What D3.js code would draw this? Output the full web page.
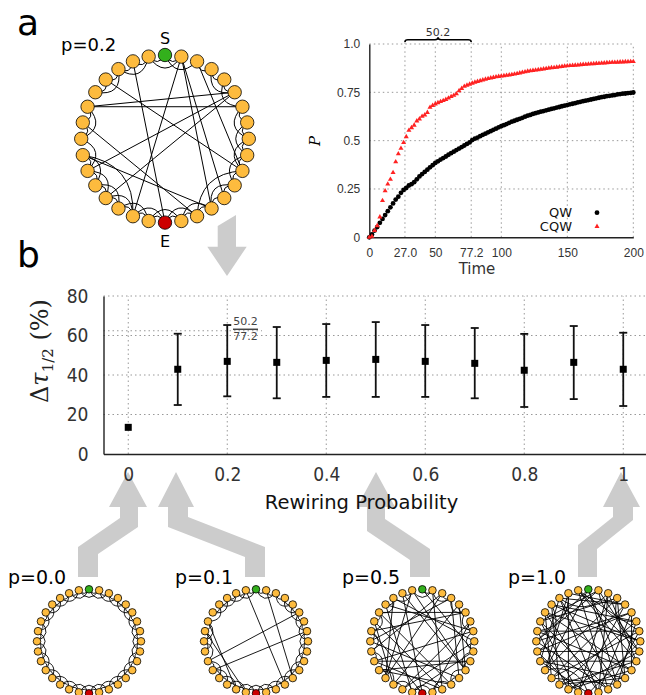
<!DOCTYPE html>
<meta charset='utf-8'>
<head>
    <title>Walk speed-up on rewired rings</title>
    <script src='https://cdn.jsdelivr.net/npm/d3@7'></script>
</head>

<style>
    body { margin: 0; background: #fff; }
    svg { font-family: 'DejaVu Sans', sans-serif; }
    .grid { stroke: #999; stroke-width: 1; stroke-dasharray: 1.5,3; fill: none; }
    .edge { fill: none; stroke: #000; }
    .node { stroke: #000; stroke-width: 0.8; }
    .arrow { fill: #cccccc; }
    .axA .domain, .axB .domain { stroke: #222; stroke-width: 1.4; }
    .axA text { font-size: 12px; fill: #333; }
    .axB text { font-family: 'DejaVu Sans Condensed', 'DejaVu Sans', sans-serif; font-stretch: condensed; font-size: 19px; fill: #333; }
</style>

<svg width='646' height='695'></svg>

<script>
    // ---- panel a: arrival probability vs time ----
    var timeSteps = [0,2,4,6,8,10,12,14,16,18,20,22,24,26,28,30,32,34,36,38,
        40,42,44,46,48,50,52,54,56,58,60,62,64,66,68,70,72,74,76,78,
        80,82,84,86,88,90,92,94,96,98,100,102,104,106,108,110,112,114,116,118,
        120,122,124,126,128,130,132,134,136,138,140,142,144,146,148,150,152,154,156,158,
        160,162,164,166,168,170,172,174,176,178,180,182,184,186,188,190,192,194,196,198,200];
    var qwP = [0,0.015,0.035,0.053,0.075,0.095,0.115,0.135,0.155,0.175,
        0.195,0.21,0.23,0.245,0.255,0.268,0.275,0.285,0.3,0.315,
        0.327,0.338,0.35,0.362,0.373,0.385,0.393,0.402,0.41,0.418,
        0.427,0.435,0.443,0.451,0.459,0.467,0.475,0.483,0.491,0.503,
        0.51,0.516,0.523,0.53,0.536,0.543,0.549,0.556,0.562,0.569,
        0.575,0.58,0.586,0.592,0.598,0.603,0.608,0.613,0.618,0.624,
        0.629,0.633,0.638,0.642,0.646,0.65,0.653,0.657,0.66,0.664,
        0.667,0.671,0.674,0.678,0.681,0.684,0.688,0.691,0.694,0.698,
        0.701,0.704,0.707,0.71,0.713,0.716,0.719,0.722,0.725,0.727,
        0.73,0.732,0.734,0.736,0.739,0.741,0.743,0.744,0.746,0.747,0.749];
    var cqwP = [0,0.005,0.035,0.06,0.105,0.19,0.24,0.275,0.3,0.335,
        0.39,0.432,0.46,0.49,0.52,0.553,0.567,0.58,0.602,0.612,
        0.626,0.633,0.646,0.672,0.682,0.69,0.696,0.702,0.707,0.713,
        0.72,0.728,0.734,0.742,0.758,0.77,0.781,0.787,0.792,0.797,
        0.802,0.806,0.81,0.814,0.818,0.821,0.824,0.827,0.83,0.832,
        0.834,0.836,0.838,0.84,0.842,0.844,0.847,0.85,0.853,0.856,
        0.859,0.861,0.863,0.865,0.867,0.869,0.871,0.873,0.875,0.877,
        0.878,0.88,0.882,0.884,0.886,0.887,0.888,0.889,0.89,0.891,
        0.893,0.894,0.895,0.896,0.897,0.898,0.899,0.9,0.901,0.902,
        0.903,0.904,0.905,0.905,0.906,0.907,0.907,0.908,0.908,0.909,0.909];
    var timeTicks = [0, 27.0, 50, 77.2, 100, 150, 200];
    var timeTickLabels = ['0', '27.0', '50', '77.2', '100', '150', '200'];
    var pTicks = [0, 0.25, 0.5, 0.75, 1.0];
    var pTickLabels = ['0', '0.25', '0.5', '0.75', '1.0'];
    var seriesNames = ['QW', 'CQW'];
    var halfTimes = [27.0, 77.2];
    var halfGapLabel = '50.2';

    // ---- panel b: speed-up vs rewiring probability ----
    var rewiringP = [0, 0.1, 0.2, 0.3, 0.4, 0.5, 0.6, 0.7, 0.8, 0.9, 1.0];
    var deltaTau = [13.5, 42.9, 46.9, 46.4, 47.4, 47.9, 46.9, 45.9, 42.4, 46.4, 42.9];
    var deltaHi = [null, 60.9, 65.3, 64.3, 65.8, 66.8, 65.3, 63.8, 60.8, 64.8, 61.4];
    var deltaLo = [null, 24.8, 29.2, 28.2, 28.9, 28.9, 28.9, 28.2, 23.8, 27.8, 24.3];
    var probTicks = [0, 0.2, 0.4, 0.6, 0.8, 1];
    var probTickLabels = ['0', '0.2', '0.4', '0.6', '0.8', '1'];
    var deltaTicks = [0, 20, 40, 60, 80];
    var ratioMark = 62.4;

    // ---- networks: ring of 32, each node linked to 2 forward neighbours ----
    // rewired entries: [node, step, newTarget]
    var nodeCount = 32;
    var latticeSteps = [1, 2];
    var rewired02 = [[1,2,18],[1,1,13],[12,2,1],[2,2,10],[26,1,6],[26,2,5],[5,1,22],
        [5,2,20],[28,2,10],[25,2,14],[30,2,16],[23,1,13],[10,2,14],[23,2,18]];
    var rewired00 = [];
    var rewired01 = [[31,2,13],[1,2,12],[22,1,5],[21,2,7],[25,2,17],[26,1,18]];
    var rewired05 = [[0,2,9],[1,1,14],[2,2,20],[3,1,24],[4,2,11],[5,1,27],[6,2,18],[7,1,22],
        [8,2,29],[9,1,17],[10,2,22],[11,1,30],[12,2,3],[13,1,21],[14,2,26],[15,1,6],
        [16,2,25],[17,1,28],[18,2,8],[19,1,4],[20,2,31],[21,1,10],[22,2,14],[23,1,2],
        [24,2,12],[25,1,5],[26,2,19],[27,1,13],[28,2,7],[29,1,20],[30,2,16],[31,1,11]];
    var rewired10 = [[0,1,13],[0,2,21],[1,1,9],[1,2,24],[2,1,17],[2,2,29],[3,1,12],[3,2,26],
        [4,1,20],[4,2,30],[5,1,15],[5,2,23],[6,1,1],[6,2,19],[7,1,25],[7,2,14],
        [8,1,28],[8,2,3],[9,1,18],[9,2,31],[10,1,22],[10,2,2],[11,1,27],[11,2,5],
        [12,1,19],[12,2,0],[13,1,6],[13,2,29],[14,1,24],[14,2,31],[15,1,2],[15,2,27],
        [16,1,8],[16,2,22],[17,1,4],[17,2,26],[18,1,30],[18,2,11],[19,1,10],[19,2,28],
        [20,1,7],[20,2,13],[21,1,3],[21,2,16],[22,1,29],[22,2,12],[23,1,9],[23,2,17],
        [24,1,5],[24,2,0],[25,1,11],[25,2,18],[26,1,14],[26,2,1],[27,1,20],[27,2,8],
        [28,1,23],[28,2,6],[29,1,15],[29,2,4],[30,1,21],[30,2,25],[31,1,7],[31,2,10]];
    var netLabels = ['p=0.0', 'p=0.1', 'p=0.5', 'p=1.0'];

    var svg = d3.select('svg');

    // grey pointer arrows (drawn first, text sits over them)
    var arrowShapes = [
        [[217.7,226],[236,215],[236,246.7],[246.7,246.7],[227,276],[207.3,246.7],[217.7,246.7]],
        [[128,472],[147,507],[138,507],[138,527],[98,554],[98,577],[78,577],[78,547],[120,518],[120,507],[109,507]],
        [[176,472],[194,507],[188,507],[188,517],[265,547],[265,577],[245,577],[245,557],[168,527],[168,507],[158,507]],
        [[376,472],[395,507],[385,507],[385,519],[430,549],[430,577],[410,577],[410,560],[367,531],[367,507],[357,507]],
        [[621,472],[640,507],[633,507],[633,520],[597,549],[597,577],[578,577],[578,545],[613,517],[613,507],[603,507]]
    ];
    svg.selectAll('polygon.arrow').data(arrowShapes).enter().append('polygon')
        .attr('class', 'arrow')
        .attr('points', function (d) { return d.join(' '); });

    // panel letters
    svg.append('text').attr('x', 17).attr('y', 35).attr('font-size', 36).text('a');
    svg.append('text').attr('x', 17).attr('y', 267).attr('font-size', 36).text('b');

    // ---------- network drawing ----------
    function buildEdges(rew) {
        var gone = new Set(rew.map(function (r) { return r[0] + '-' + r[1]; }));
        var edges = [];
        for (var i = 0; i < nodeCount; i++) {
            latticeSteps.forEach(function (s) {
                if (!gone.has(i + '-' + s)) edges.push([i, (i + s) % nodeCount]);
            });
        }
        rew.forEach(function (r) { edges.push([r[0], r[2]]); });
        return edges;
    }

    function drawNet(cx, cy, R, nodeR, rew, edgeW) {
        var ang = d3.scaleLinear().domain([0, nodeCount]).range([0, 2 * Math.PI]);
        var pos = function (i) { return [cx + R * Math.sin(ang(i)), cy - R * Math.cos(ang(i))]; };
        var g = svg.append('g');
        g.selectAll('path').data(buildEdges(rew)).enter().append('path')
            .attr('class', 'edge')
            .attr('stroke-width', edgeW)
            .attr('d', function (e) {
                var a = pos(e[0]), b = pos(e[1]);
                var s = Math.abs(e[0] - e[1]);
                s = Math.min(s, nodeCount - s);
                var p = d3.path();
                p.moveTo(a[0], a[1]);
                if (s > 5) {
                    p.lineTo(b[0], b[1]);
                } else {
                    var mx = (a[0] + b[0]) / 2, my = (a[1] + b[1]) / 2;
                    var len = Math.hypot(b[0] - a[0], b[1] - a[1]);
                    var dx = cx - mx, dy = cy - my, dist = Math.hypot(dx, dy);
                    var k = (s <= 2 ? 0.7 : 0.45) * len;
                    p.quadraticCurveTo(mx + dx / dist * k, my + dy / dist * k, b[0], b[1]);
                }
                return p.toString();
            });
        g.selectAll('circle').data(d3.range(nodeCount)).enter().append('circle')
            .attr('class', 'node')
            .attr('r', nodeR)
            .attr('cx', function (i) { return pos(i)[0]; })
            .attr('cy', function (i) { return pos(i)[1]; })
            .attr('fill', function (i) {
                return i === 0 ? '#33b01c' : (i === nodeCount / 2 ? '#cc0000' : '#fdbb3e');
            });
    }

    drawNet(165, 138.8, 83.8, 6.7, rewired02, 1.0);
    svg.append('text').attr('x', 61).attr('y', 51).attr('font-size', 18).text('p=0.2');
    svg.append('text').attr('x', 165).attr('y', 43.5).attr('font-size', 16)
        .attr('text-anchor', 'middle').text('S');
    svg.append('text').attr('x', 165).attr('y', 246.5).attr('font-size', 16)
        .attr('text-anchor', 'middle').text('E');

    var smallNets = [rewired00, rewired01, rewired05, rewired10];
    var smallX = [89, 256, 422.3, 588.3];
    var labelX = [8, 175, 342, 508];
    smallNets.forEach(function (rew, i) {
        drawNet(smallX[i], 641.3, 52, 3.8, rew, 0.9);
        svg.append('text').attr('x', labelX[i]).attr('y', 584).attr('font-size', 19).text(netLabels[i]);
    });

    // ---------- panel a plot ----------
    var xA = d3.scaleLinear().domain([0, 200]).range([369.3, 633.3]);
    var yA = d3.scaleLinear().domain([0, 1]).range([237.3, 44]);
    var gA = svg.append('g');

    gA.selectAll('line.gx').data(timeTicks.slice(1)).enter().append('line')
        .attr('class', 'grid')
        .attr('x1', xA).attr('x2', xA)
        .attr('y1', yA(0))
        .attr('y2', function (d) { return halfTimes.indexOf(d) >= 0 ? 41 : yA(1); });
    gA.selectAll('line.gy').data(pTicks.slice(1)).enter().append('line')
        .attr('class', 'grid')
        .attr('x1', xA(0)).attr('x2', xA(200))
        .attr('y1', yA).attr('y2', yA);

    gA.append('g').attr('class', 'axA')
        .attr('transform', 'translate(0,' + yA(0) + ')')
        .call(d3.axisBottom(xA).tickValues(timeTicks)
            .tickFormat(function (d, i) { return timeTickLabels[i]; })
            .tickSize(0).tickPadding(11));
    gA.append('g').attr('class', 'axA')
        .attr('transform', 'translate(' + xA(0) + ',0)')
        .call(d3.axisLeft(yA).tickValues(pTicks)
            .tickFormat(function (d, i) { return pTickLabels[i]; })
            .tickSize(0).tickPadding(9));
    gA.selectAll('.axA text').attr('font-family', null);

    gA.append('text').attr('x', 477).attr('y', 274).attr('font-size', 15)
        .attr('fill', '#333').attr('text-anchor', 'middle').text('Time');
    gA.append('text').attr('transform', 'translate(320,141) rotate(-90)')
        .attr('text-anchor', 'middle').attr('font-family', 'DejaVu Serif')
        .attr('font-style', 'italic').attr('font-size', 15).text('P');

    gA.selectAll('circle.qw').data(timeSteps).enter().append('circle')
        .attr('cx', function (d) { return xA(d); })
        .attr('cy', function (d, i) { return yA(qwP[i]); })
        .attr('r', 2.4).attr('fill', '#000');
    var tri = d3.symbol().type(d3.symbolTriangle).size(11);
    gA.selectAll('path.cqw').data(timeSteps).enter().append('path')
        .attr('d', tri)
        .attr('transform', function (d, i) { return 'translate(' + xA(d) + ',' + yA(cqwP[i]) + ')'; })
        .attr('fill', '#ff2222');

    // brace over the two half-arrival times
    var b0 = xA(halfTimes[0]), b1 = xA(halfTimes[1]), bc = (b0 + b1) / 2;
    var brace = d3.path();
    brace.moveTo(b0, 42);
    brace.quadraticCurveTo(b0, 39.8, b0 + 3, 39.8);
    brace.lineTo(bc - 3, 39.8);
    brace.quadraticCurveTo(bc, 39.8, bc, 37.3);
    brace.quadraticCurveTo(bc, 39.8, bc + 3, 39.8);
    brace.lineTo(b1 - 3, 39.8);
    brace.quadraticCurveTo(b1, 39.8, b1, 42);
    gA.append('path').attr('d', brace.toString()).attr('fill', 'none')
        .attr('stroke', '#000').attr('stroke-width', 1.6);
    gA.append('text').attr('x', bc).attr('y', 35.5).attr('font-size', 11)
        .attr('fill', '#333').attr('text-anchor', 'middle').text(halfGapLabel);

    // legend
    var legY = [212.7, 226.5];
    seriesNames.forEach(function (name, i) {
        gA.append('text').attr('x', 572).attr('y', legY[i] + 4.5).attr('font-size', 13)
            .attr('fill', '#111').attr('text-anchor', 'end').text(name);
    });
    gA.append('circle').attr('cx', 597).attr('cy', legY[0]).attr('r', 2.4).attr('fill', '#000');
    gA.append('path').attr('d', tri).attr('transform', 'translate(597,' + legY[1] + ')')
        .attr('fill', '#ff2222');

    // ---------- panel b plot ----------
    var xB = d3.scaleLinear().domain([-0.05, 1.05]).range([103.5, 648]);
    var yB = d3.scaleLinear().domain([0, 80]).range([454, 296]);
    var gB = svg.append('g');

    gB.selectAll('line.gx').data(probTicks).enter().append('line')
        .attr('class', 'grid')
        .attr('x1', xB).attr('x2', xB)
        .attr('y1', yB(0)).attr('y2', yB(80));
    gB.selectAll('line.gy').data(deltaTicks.slice(1)).enter().append('line')
        .attr('class', 'grid')
        .attr('x1', xB(-0.05)).attr('x2', xB(1.05))
        .attr('y1', yB).attr('y2', yB);
    gB.append('line').attr('class', 'grid')
        .attr('x1', xB(-0.05)).attr('x2', 262)
        .attr('y1', yB(ratioMark)).attr('y2', yB(ratioMark));

    gB.append('g').attr('class', 'axB')
        .attr('transform', 'translate(0,' + yB(0) + ')')
        .call(d3.axisBottom(xB).tickValues(probTicks)
            .tickFormat(function (d, i) { return probTickLabels[i]; })
            .tickSize(0).tickPadding(13.5));
    gB.append('g').attr('class', 'axB')
        .attr('transform', 'translate(' + xB(-0.05) + ',0)')
        .call(d3.axisLeft(yB).tickValues(deltaTicks).tickSize(0).tickPadding(15));
    gB.selectAll('.axB text').attr('font-family', null).attr('font-size', null);

    // error bars
    var bars = gB.selectAll('g.err').data(rewiringP.map(function (p, i) { return i; })
        .filter(function (i) { return deltaHi[i] !== null; })).enter().append('g');
    bars.append('line')
        .attr('x1', function (i) { return xB(rewiringP[i]); })
        .attr('x2', function (i) { return xB(rewiringP[i]); })
        .attr('y1', function (i) { return yB(deltaHi[i]); })
        .attr('y2', function (i) { return yB(deltaLo[i]); })
        .attr('stroke', '#111').attr('stroke-width', 1.8);
    [deltaHi, deltaLo].forEach(function (arr) {
        bars.append('line')
            .attr('x1', function (i) { return xB(rewiringP[i]) - 4; })
            .attr('x2', function (i) { return xB(rewiringP[i]) + 4; })
            .attr('y1', function (i) { return yB(arr[i]); })
            .attr('y2', function (i) { return yB(arr[i]); })
            .attr('stroke', '#111').attr('stroke-width', 1.8);
    });
    gB.selectAll('rect.m').data(rewiringP).enter().append('rect')
        .attr('x', function (d) { return xB(d) - 3.5; })
        .attr('y', function (d, i) { return yB(deltaTau[i]) - 3.5; })
        .attr('width', 7).attr('height', 7).attr('fill', '#000');

    // fraction note next to p=0.2
    gB.append('text').attr('x', 245.5).attr('y', 324.5).attr('font-size', 11)
        .attr('fill', '#444').attr('text-anchor', 'middle').text('50.2');
    gB.append('line').attr('x1', 233).attr('x2', 258).attr('y1', 329.3).attr('y2', 329.3)
        .attr('stroke', '#444').attr('stroke-width', 1.5);
    gB.append('text').attr('x', 245.5).attr('y', 339.5).attr('font-size', 11)
        .attr('fill', '#444').attr('text-anchor', 'middle').text('77.2');

    gB.append('text').attr('x', 361.5).attr('y', 509).attr('font-size', 19.5)
        .attr('fill', '#111').attr('text-anchor', 'middle').text('Rewiring Probability');

    var yl = gB.append('text').attr('transform', 'translate(48,351) rotate(-90)')
        .attr('text-anchor', 'middle').attr('font-family', 'DejaVu Serif')
        .attr('font-size', 24).attr('fill', '#222');
    yl.append('tspan').text('Δ');
    yl.append('tspan').attr('font-style', 'italic').text('τ');
    yl.append('tspan').attr('font-size', 15).attr('dy', 5).text('1/2');
    yl.append('tspan').attr('dy', -5).text(' (%)');
</script>
